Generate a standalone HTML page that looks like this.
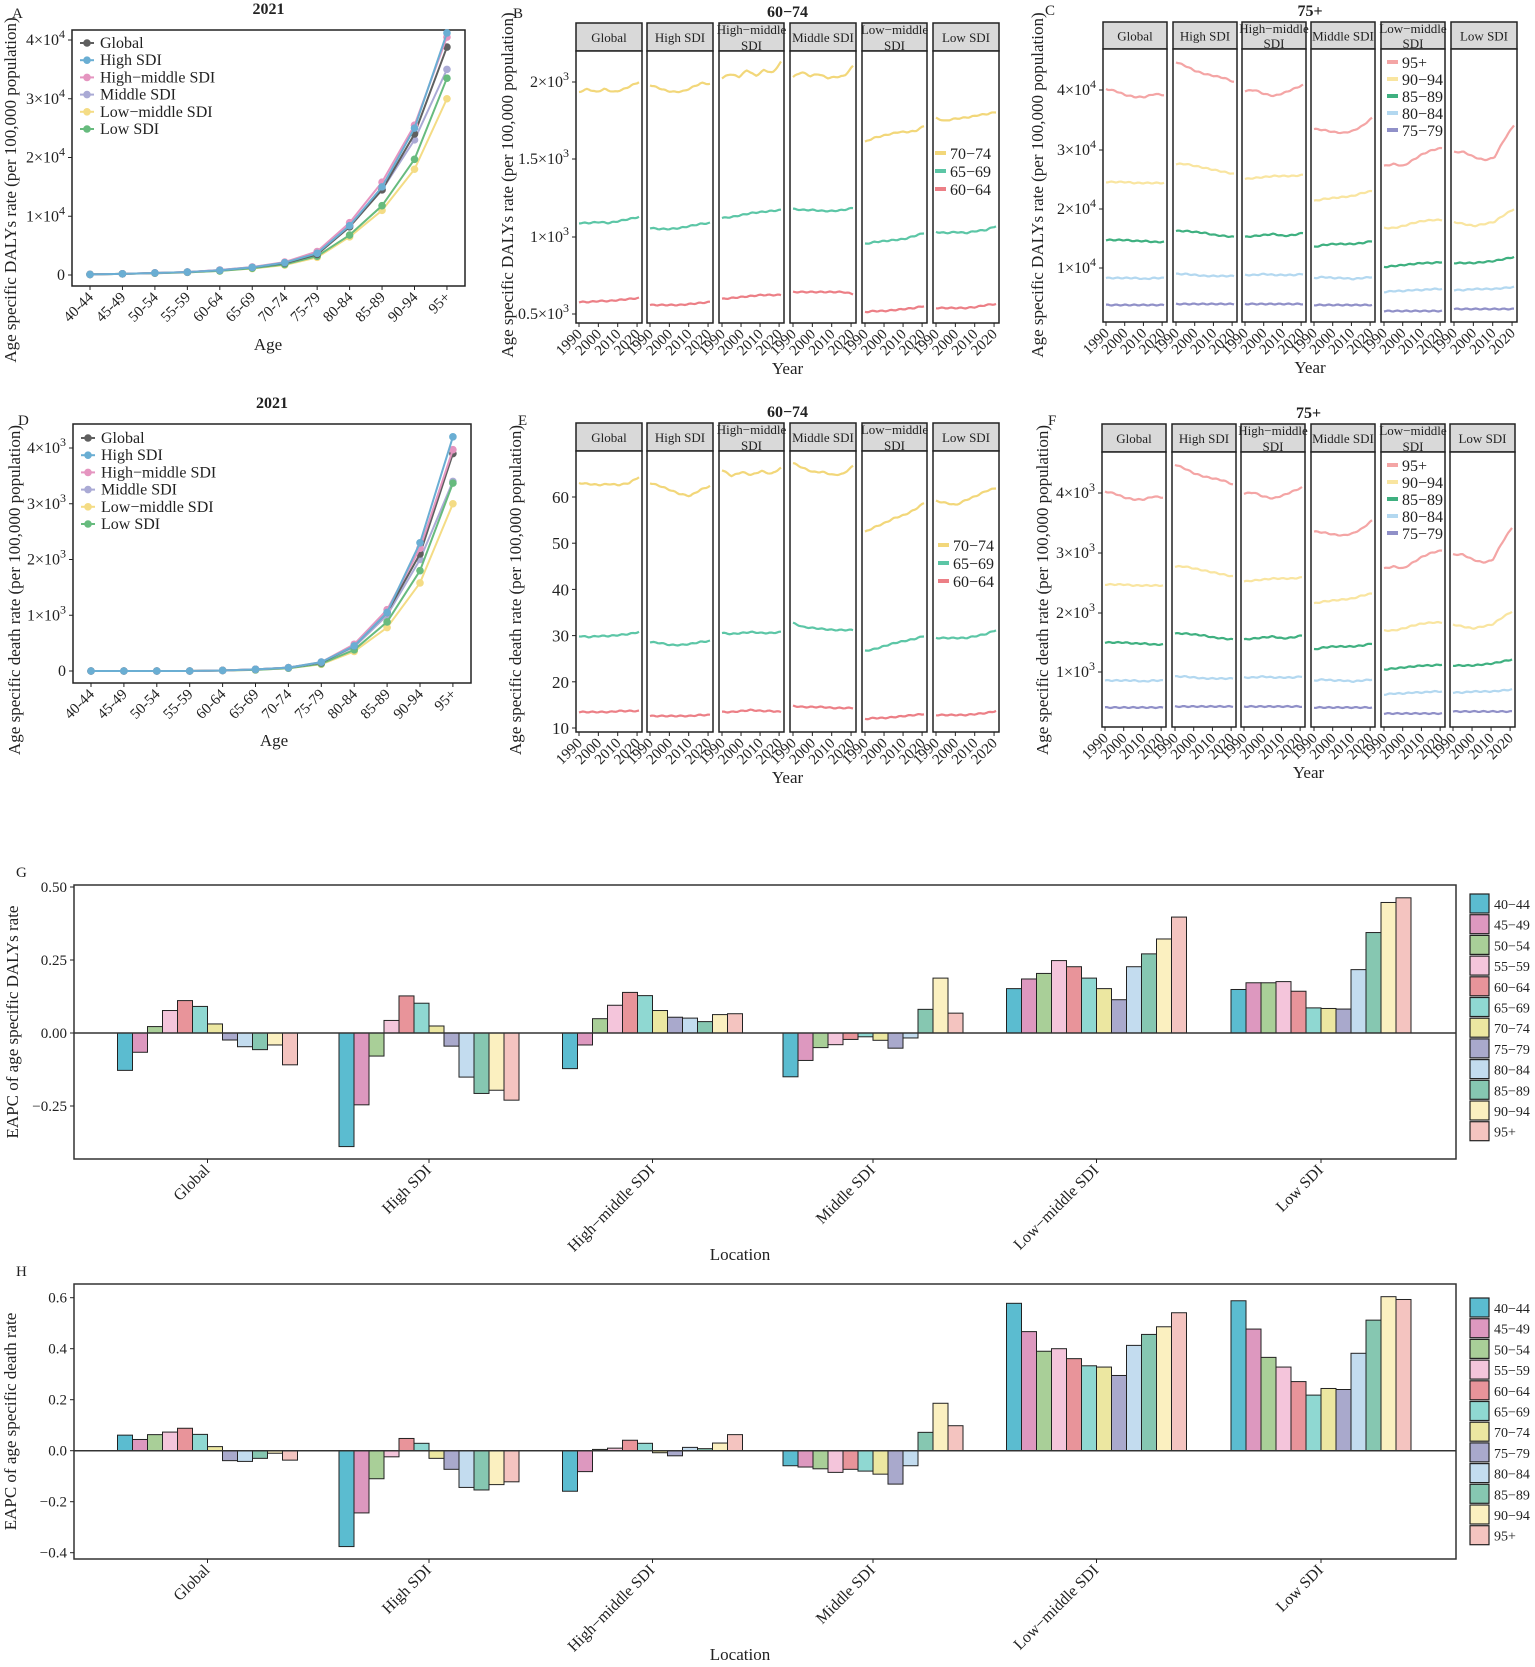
<!DOCTYPE html>
<html><head><meta charset="utf-8"><style>
html,body{margin:0;padding:0;background:#fff;}
svg{display:block;font-family:"Liberation Serif","DejaVu Serif",serif;}
</style></head><body>
<svg id="s" width="1535" height="1667" viewBox="0 0 1535 1667" xmlns="http://www.w3.org/2000/svg"></svg>
<script>
const S=document.getElementById('s');const NS='http://www.w3.org/2000/svg';
function el(t,a,txt){const e=document.createElementNS(NS,t);for(const k in a)e.setAttribute(k,a[k]);if(txt!==undefined)e.textContent=txt;S.appendChild(e);return e;}
function text(x,y,s,o){o=o||{};const a={x:x,y:y,'font-size':o.fs||15,fill:o.fill||'#222'};if(o.anchor)a['text-anchor']=o.anchor;if(o.weight)a['font-weight']=o.weight;if(o.rot!==undefined)a.transform='rotate('+o.rot+' '+x+' '+y+')';return el('text',a,s);}
function sci(x,y,m,e,fs){fs=fs||16;const t=el('text',{x:x,y:y,'font-size':fs,fill:'#222','text-anchor':'end'});
 const a=document.createElementNS(NS,'tspan');a.textContent=m+'\u00d710';t.appendChild(a);
 const b=document.createElementNS(NS,'tspan');b.setAttribute('dy','-7');b.setAttribute('font-size',fs*0.75);b.textContent=e;t.appendChild(b);}
function line(x1,y1,x2,y2,c,w){el('line',{x1,y1,x2,y2,stroke:c||'#222','stroke-width':w||1});}
function interp(keys,n){const out=[];for(let i=0;i<n;i++){const t=i/(n-1)*(keys.length-1);const k=Math.min(Math.floor(t),keys.length-2);const f=t-k;out.push(keys[k]*(1-f)+keys[k+1]*f);}return out;}
function poly(xs,ys,c,w){el('polyline',{points:xs.map((x,i)=>x+','+ys[i]).join(' '),fill:'none',stroke:c,'stroke-width':w||2.2,'stroke-linejoin':'round'});}

const lc={Global:'#5f5f5f',High:'#6aaed3',HM:'#e595c0',Mid:'#aaaad5',LM:'#f4dc85',Low:'#67bb7e'};
const names=[['Global','Global'],['High','High SDI'],['HM','High\u2212middle SDI'],['Mid','Middle SDI'],['LM','Low\u2212middle SDI'],['Low','Low SDI']];
const ages=['40-44','45-49','50-54','55-59','60-64','65-69','70-74','75-79','80-84','85-89','90-94','95+'];
function agePanel2(o){
 el('rect',{x:o.x0,y:o.y0,width:o.x1-o.x0,height:o.y1-o.y0,fill:'none',stroke:'#222','stroke-width':1.5});
 text((o.x0+o.x1)/2,o.y0-16,'2021',{anchor:'middle',weight:'bold',fs:16});
 [0,1,2,3,4].forEach(t=>{const y=o.zy-t*o.tstep;line(o.x0-4,y,o.x0,y);if(t==0)text(o.x0-7,y+5,'0',{anchor:'end',fs:16});else sci(o.x0-7,y+5,t,o.exp);});
 ages.forEach((a,i)=>{const x=o.ax+i*o.dx;line(x,o.y1,x,o.y1+4);text(x+4,o.y1+12,a,{anchor:'end',rot:-45,fs:15});});
 const order=['Mid','LM','Low','Global','HM','High'];
 order.forEach(k=>{const v=o.data[k];const xs=v.map((_,i)=>o.ax+i*o.dx);const ys=v.map(q=>o.zy-q*o.k);poly(xs,ys,lc[k],2);
  xs.forEach((x,i)=>el('circle',{cx:x,cy:ys[i],r:3.8,fill:lc[k]}));});
 names.forEach((n,i)=>{const y=o.ly+i*17.2;line(o.x0+8,y,o.x0+22,y,lc[n[0]],2);el('circle',{cx:o.x0+15,cy:y,r:3.8,fill:lc[n[0]]});text(o.x0+28,y+5,n[1],{fs:16});});
}
agePanel2({x0:72,x1:465,y0:30,y1:286,zy:275,k:5.875,tstep:58.75,exp:'4',ax:90,dx:32.45,ly:43,
 data:{Global:[0.1,0.2,0.35,0.5,0.8,1.3,2.0,3.5,8.2,14.5,24,38.8],High:[0.1,0.2,0.35,0.5,0.8,1.3,2.1,3.7,8.4,15,25,41.2],
 HM:[0.1,0.2,0.35,0.5,0.85,1.35,2.2,4.0,8.9,15.8,25.5,40.5],Mid:[0.1,0.2,0.35,0.5,0.85,1.35,2.1,3.8,8.5,14.5,23,35],
 LM:[0.1,0.2,0.3,0.45,0.7,1.1,1.7,3.0,6.5,11,18,30],Low:[0.1,0.2,0.3,0.45,0.7,1.15,1.8,3.2,6.8,11.8,19.7,33.5]}});
agePanel2({x0:73,x1:471,y0:424,y1:683,zy:671,k:55.75,tstep:55.75,exp:'3',ax:91,dx:32.9,ly:438,
 data:{Global:[0,0,0,0,0.01,0.03,0.06,0.15,0.45,1.05,2.1,3.9],High:[0,0,0,0,0.01,0.03,0.06,0.16,0.45,1.05,2.3,4.2],
 HM:[0,0,0,0,0.01,0.03,0.06,0.16,0.48,1.1,2.2,3.97],Mid:[0,0,0,0,0.01,0.03,0.06,0.15,0.43,1.0,2.0,3.4],
 LM:[0,0,0,0,0.01,0.02,0.05,0.12,0.35,0.78,1.58,3.0],Low:[0,0,0,0,0.01,0.02,0.05,0.13,0.38,0.88,1.8,3.37]}});
text(12,18,'A',{fs:15});text(18,425,'D',{fs:15});
text(16,190,'Age specific DALYs rate (per 100,000 population)',{anchor:'middle',rot:-90,fs:17});
text(20,590,'Age specific death rate (per 100,000 population)',{anchor:'middle',rot:-90,fs:17});
text(268,350,'Age',{anchor:'middle',fs:17});text(274,746,'Age',{anchor:'middle',fs:17});

const fnames=[['Global'],['High SDI'],['High\u2212middle','SDI'],['Middle SDI'],['Low\u2212middle','SDI'],['Low SDI']];
function facets(o){
 o.xs.forEach((xr,fi)=>{const [x0,x1]=xr;
  el('rect',{x:x0,y:o.st,width:x1-x0,height:o.sb-o.st,fill:'#d9d9d9',stroke:'#222','stroke-width':1.5});
  el('rect',{x:x0,y:o.sb,width:x1-x0,height:o.bot-o.sb,fill:'#fff',stroke:'#222','stroke-width':1.5});
  const f=fnames[fi],cx=(x0+x1)/2;
  if(f.length==1)text(cx,(o.st+o.sb)/2+5,f[0],{anchor:'middle',fs:13});
  else{text(cx,o.st+11,f[0],{anchor:'middle',fs:13});text(cx,o.sb-1,f[1],{anchor:'middle',fs:13});}
  const px=x=>x0+3+(x-1990)/31*(x1-x0-6);
  [1990,2000,2010,2020].forEach(yr=>{const x=px(yr);line(x,o.bot,x,o.bot+4);text(x+4,o.bot+12,String(yr),{anchor:'end',rot:-45,fs:15});});
  o.series.forEach((s,si)=>{const ks=s.d[fi];const ys=interp(ks,32);
   const w=ys.map((y,i)=>y+Math.sin(i*1.3+si+fi)*0.5);const xs=ys.map((_,i)=>x0+3+i/31*(x1-x0-6));poly(xs,w,s.c,2.2);});
 });
 o.ticks.forEach(t=>{const x0=o.xs[0][0];line(x0-4,t.y,x0,t.y);if(t.e)sci(x0-7,t.y+5,t.m,t.e);else text(x0-7,t.y+6,t.m,{anchor:'end',fs:17});});
 const cx=(o.xs[0][0]+o.xs[5][1])/2;
 text(cx,o.st-6,o.title,{anchor:'middle',weight:'bold',fs:16});
 text(cx,o.bot+51,'Year',{anchor:'middle',fs:17});
 o.leg.items.forEach((it,i)=>{const y=o.leg.y+i*o.leg.dy;line(o.leg.x,y,o.leg.x+11,y,it[1],4);text(o.leg.x+15,y+6,it[0],{fs:16});});
}
const xsB=[[576,642],[647,713],[719,784],[790,856],[862,927],[933,999]];
const yel='#f2d77a',teal='#5cc6a6',red='#ec7f86';
facets({xs:xsB,st:23,sb:51,bot:323,title:'60\u221274',
 ticks:[{y:82,m:2,e:'3'},{y:159,m:1.5,e:'3'},{y:237,m:1,e:'3'},{y:314,m:0.5,e:'3'}],
 series:[{c:yel,d:[[92,89,92,89,92,90,86,82],[85,88,91,92,91,87,83,84],[78,74,77,70,76,70,73,62],[77,72,76,74,78,77,76,66],[142,138,136,134,132,132,131,126],[118,121,119,118,117,115,114,112]]},
  {c:teal,d:[[223,223,222,223,221,219,217],[228,229,229,228,226,224,223],[218,217,215,213,212,211,210],[209,210,210,211,211,210,208],[244,242,241,240,239,236,233],[232,233,232,233,231,230,226]]},
  {c:red,d:[[302,302,301,301,300,299,298],[305,305,305,305,304,303,302],[299,298,297,296,295,295,295],[292,292,292,292,292,292,294],[312,311,311,310,309,308,306],[308,308,308,308,307,305,304]]}],
 leg:{x:935,y:153,dy:18,items:[['70\u221274',yel],['65\u221269',teal],['60\u221264',red]]}});
facets({xs:xsB,st:423,sb:451,bot:732,title:'60\u221274',
 ticks:[10,20,30,40,50,60].map(v=>({y:728-(v-10)*4.62,m:String(v)})),
 series:[{c:yel,d:[[483,484,485,484,485,483,477],[483,486,490,494,496,490,486],[470,476,472,475,471,474,468],[463,468,472,472,475,474,466],[532,527,523,518,515,510,503],[501,503,505,500,496,491,488]]},
  {c:teal,d:[[636,637,636,636,635,634,632],[642,643,645,645,644,642,641],[633,634,633,632,633,633,632],[623,627,628,629,630,630,630],[651,649,646,643,641,639,636],[638,638,638,638,636,634,630]]},
  {c:red,d:[[712,712,712,712,711,711,711],[716,716,716,716,716,715,715],[712,712,711,710,711,711,712],[706,707,707,707,708,708,708],[719,718,718,717,716,715,714],[715,715,715,715,714,713,711]]}],
 leg:{x:938,y:545,dy:18,items:[['70\u221274',yel],['65\u221269',teal],['60\u221264',red]]}});
const xsC=[[1103,1167],[1173,1237],[1242,1306],[1311,1375],[1381,1445],[1451,1517]];
const cP='#f4a5a5',cY='#f9e5a0',cG='#3fb080',cB='#b3d8f0',cV='#9090c8';
const cData=[
 {c:cP,d:[[89,91,95,97,97,94,95],[62,66,71,74,76,78,82],[91,90,94,96,93,89,85],[129,130,132,133,131,126,118],[166,164,166,160,154,150,148],[152,152,157,160,158,140,125]]},
 {c:cY,d:[[182,182,182,183,183,183,183],[164,164,166,168,170,172,174],[179,178,177,176,176,176,175],[201,199,198,197,196,193,191],[228,228,226,223,221,220,220],[222,224,226,224,222,215,209]]},
 {c:cG,d:[[240,240,240,241,241,242,242],[231,231,232,233,235,236,237],[237,236,235,234,236,235,233],[247,245,244,244,244,243,241],[267,266,265,264,263,263,262],[263,263,263,262,261,259,257]]},
 {c:cB,d:[[278,278,278,278,279,278,278],[274,274,275,276,276,276,276],[275,275,274,275,275,275,274],[278,277,278,278,279,278,277],[292,291,291,290,290,289,289],[290,290,289,289,289,288,287]]},
 {c:cV,d:[[305,305,305,305,305,305,305],[304,304,304,304,304,304,304],[304,304,304,304,304,304,304],[305,305,305,305,305,305,305],[311,311,311,311,311,311,311],[309,309,309,309,309,309,309]]}];
const legC=[['95+',cP],['90\u221294',cY],['85\u221289',cG],['80\u221284',cB],['75\u221279',cV]];
facets({xs:xsC,st:22,sb:49,bot:322,title:'75+',
 ticks:[{y:90,m:4,e:'4'},{y:150,m:3,e:'4'},{y:209,m:2,e:'4'},{y:268,m:1,e:'4'}],
 series:cData,leg:{x:1387,y:62,dy:17,items:legC}});
facets({xs:[[1102,1166],[1172,1236],[1241,1305],[1311,1375],[1381,1445],[1450,1515]],st:424,sb:452,bot:727,title:'75+',
 ticks:[{y:493,m:4,e:'3'},{y:553,m:3,e:'3'},{y:613,m:2,e:'3'},{y:672,m:1,e:'3'}],
 series:cData.map(s=>({c:s.c,d:s.d.map(a=>a.map(v=>v+402.5))})),leg:{x:1387,y:465,dy:17,items:legC}});
text(513,18,'B',{fs:15});text(1045,15,'C',{fs:15});text(518,425,'E',{fs:15});text(1048,425,'F',{fs:15});
text(513,185,'Age specific DALYs rate (per 100,000 population)',{anchor:'middle',rot:-90,fs:17});
text(1043,185,'Age specific DALYs rate (per 100,000 population)',{anchor:'middle',rot:-90,fs:17});
text(521,590,'Age specific death rate (per 100,000 population)',{anchor:'middle',rot:-90,fs:17});
text(1048,590,'Age specific death rate (per 100,000 population)',{anchor:'middle',rot:-90,fs:17});

const bc=['#5bbcd0','#dd98bf','#a9cf98','#f4c5db','#e8949a','#8fd8d2','#ece7a1','#a9a9cc','#c3dcef','#86c7b1','#fbf0c0','#f4c4c0'];
const bl=['40\u221244','45\u221249','50\u221254','55\u221259','60\u221264','65\u221269','70\u221274','75\u221279','80\u221284','85\u221289','90\u221294','95+'];
const locs=['Global','High SDI','High\u2212middle SDI','Middle SDI','Low\u2212middle SDI','Low SDI'];
const centers=[207.5,429,652.5,873,1096.5,1321];
function bars(o){
 el('rect',{x:74,y:o.top,width:1456-74,height:o.bot-o.top,fill:'#fff',stroke:'#333','stroke-width':1.5});
 o.data.forEach((g,gi)=>{g.forEach((v,i)=>{const x=centers[gi]-90+i*15;const y=o.zy-v*o.k;
  el('rect',{x:x,y:Math.min(y,o.zy),width:15,height:Math.abs(o.zy-y),fill:bc[i],stroke:'#222','stroke-width':1});});});
 line(74,o.zy,1456,o.zy,'#333',1.5);
 o.ticks.forEach(t=>{const y=o.zy-t*o.k;line(70,y,74,y);text(67,y+5,o.fmt(t),{anchor:'end',fs:15});});
 centers.forEach((c,i)=>{line(c,o.bot,c,o.bot+4);text(c+3,o.bot+12,locs[i],{anchor:'end',rot:-45,fs:16});});
 bl.forEach((l,i)=>{const y=o.ly+i*20.7;el('rect',{x:1470,y:y,width:19,height:19,fill:bc[i],stroke:'#222','stroke-width':1.2});text(1494,y+15,l,{fs:14});});
 text(740,o.locy,'Location',{anchor:'middle',fs:17});
 text(16,o.top-8,o.letter,{fs:15});
 text(o.tx,(o.top+o.bot)/2,o.title,{anchor:'middle',rot:-90,fs:17});
}
bars({top:885,bot:1159,zy:1033,k:292,ticks:[-0.25,0,0.25,0.5],fmt:v=>v.toFixed(2).replace('-','\u2212'),ly:894,locy:1260,letter:'G',tx:18,
 title:'EAPC of age specific DALYs rate',
 data:[[-0.128,-0.066,0.022,0.077,0.111,0.091,0.031,-0.024,-0.047,-0.057,-0.041,-0.109],
 [-0.389,-0.246,-0.079,0.043,0.127,0.102,0.024,-0.045,-0.151,-0.207,-0.196,-0.230],
 [-0.122,-0.041,0.049,0.095,0.139,0.128,0.077,0.054,0.051,0.039,0.063,0.066],
 [-0.150,-0.094,-0.050,-0.040,-0.022,-0.013,-0.025,-0.052,-0.017,0.081,0.188,0.068],
 [0.152,0.185,0.204,0.248,0.227,0.188,0.152,0.114,0.227,0.271,0.322,0.397],
 [0.149,0.172,0.172,0.176,0.143,0.086,0.084,0.082,0.217,0.344,0.447,0.463]]});
bars({top:1284,bot:1559,zy:1450.7,k:255,ticks:[-0.4,-0.2,0,0.2,0.4,0.6],fmt:v=>v.toFixed(1).replace('-','\u2212'),ly:1298,locy:1660,letter:'H',tx:16,
 title:'EAPC of age specific death rate',
 data:[[0.061,0.044,0.063,0.073,0.088,0.064,0.016,-0.039,-0.042,-0.030,-0.010,-0.037],
 [-0.376,-0.244,-0.110,-0.024,0.048,0.029,-0.030,-0.073,-0.144,-0.154,-0.133,-0.122],
 [-0.159,-0.082,0.005,0.010,0.041,0.029,-0.008,-0.020,0.013,0.008,0.030,0.063],
 [-0.059,-0.064,-0.071,-0.085,-0.073,-0.080,-0.092,-0.131,-0.059,0.072,0.186,0.098],
 [0.578,0.467,0.390,0.400,0.361,0.333,0.328,0.295,0.413,0.456,0.486,0.541],
 [0.588,0.477,0.366,0.328,0.271,0.218,0.244,0.240,0.382,0.512,0.604,0.593]]});
</script>
</body></html>
